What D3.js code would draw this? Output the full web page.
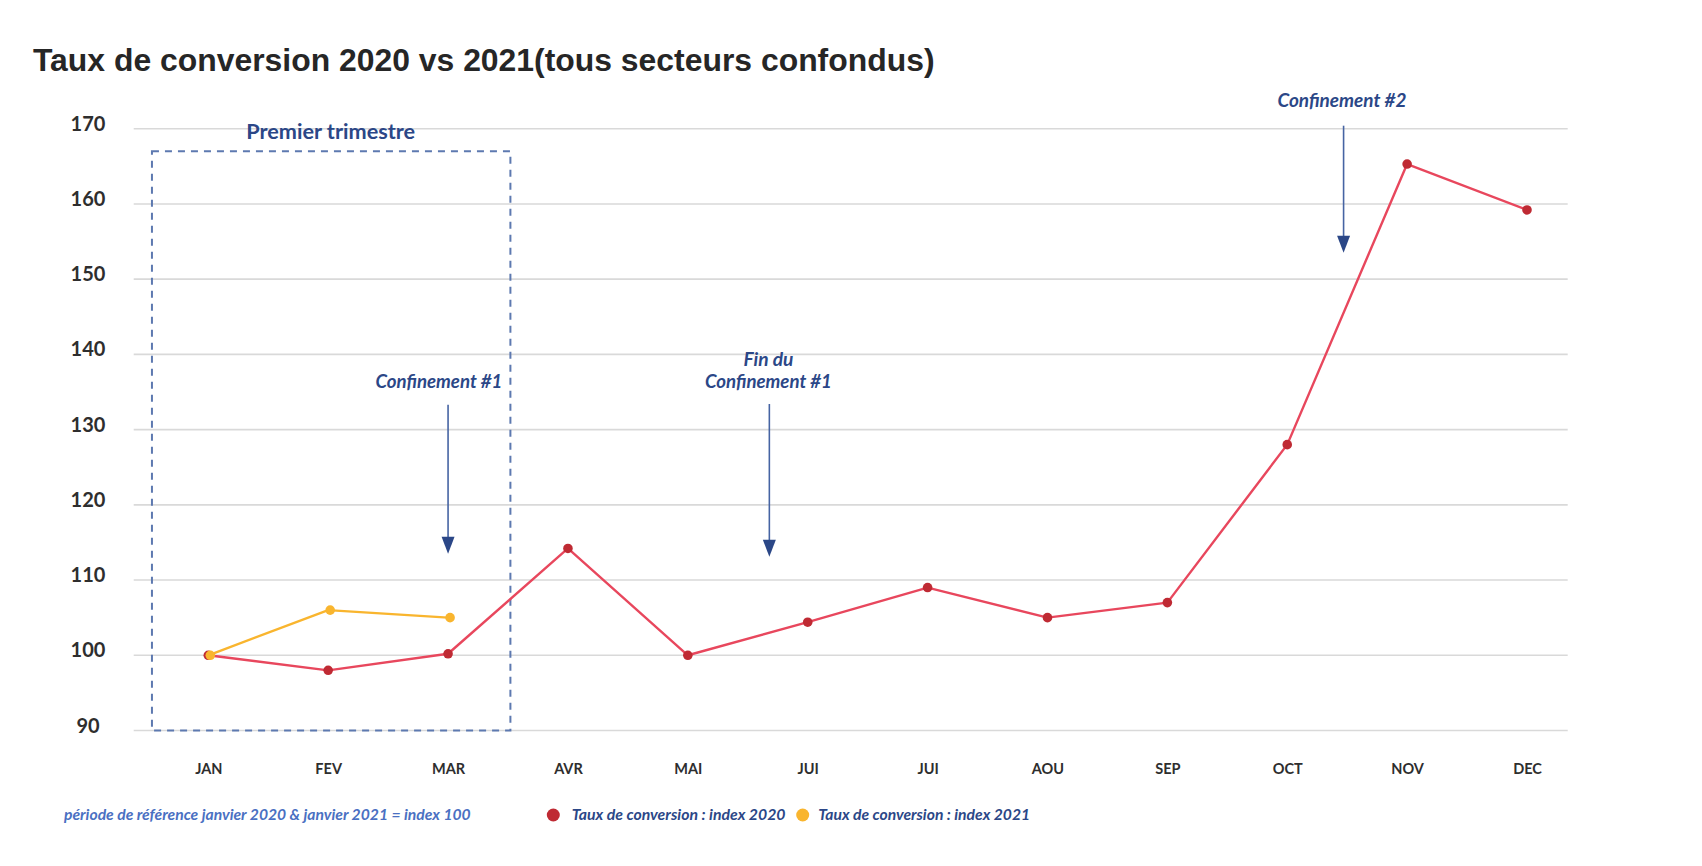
<!DOCTYPE html>
<html>
<head>
<meta charset="utf-8">
<script src="https://cdn.jsdelivr.net/npm/d3@7"></script>
<style>
  html, body { margin: 0; padding: 0; background: #ffffff; }
  svg { display: block; }
</style>
</head>
<body>
<svg id="chart" width="1702" height="866"></svg>
<script>
// ---------- DATA ----------
const months = ["JAN", "FEV", "MAR", "AVR", "MAI", "JUI", "JUI", "AOU", "SEP", "OCT", "NOV", "DEC"];
const index2020 = [100, 98, 100.2, 114.2, 100, 104.4, 109, 105, 107, 128, 165.3, 159.2];
const index2021 = [100, 106, 105];
const yTicks = [90, 100, 110, 120, 130, 140, 150, 160, 170];
const titleText = "Taux de conversion 2020 vs 2021(tous secteurs confondus)";
const noteText = "période de référence janvier 2020 & janvier 2021 = index 100";
const seriesNames = ["Taux de conversion : index 2020", "Taux de conversion : index 2021"];
const boxLabel = "Premier trimestre";
const annotationTexts = [["Confinement #1"], ["Fin du", "Confinement #1"], ["Confinement #2"]];

// ---------- LAYOUT / STYLE ----------
const C = {
  red: "#e8475d", redDot: "#bf2a33", yellow: "#f9b52e",
  navy: "#2b4787", arrow: "#4664a3", box: "#5d79b0",
  grid: "#d9d9d9", axisText: "#2e2e2e", note: "#4a70c2"
};
const svg = d3.select("#chart");
const gridLeft = 133.7, gridRight = 1567.7;

const x = d3.scalePoint().domain(d3.range(months.length)).range([208.3, 1527]);
const xi = v => x(0) + v * x.step();   // fractional month position
const y = d3.scaleLinear().domain([90, 170]).range([730.5, 128.7]);

function fitWidth(sel, w) {
  const cur = sel.node().getComputedTextLength();
  const fs = parseFloat(sel.attr("font-size"));
  sel.attr("font-size", fs * w / cur);
  return sel;
}

// ---------- TITLE ----------
const title = svg.append("text")
  .attr("x", 33).attr("y", 70.5)
  .attr("font-family", "'Liberation Sans', Arial, Helvetica, sans-serif")
  .attr("font-weight", 700).attr("font-size", 31)
  .attr("fill", "#262626")
  .text(titleText);
fitWidth(title, 902);

// ---------- GRID ----------
const grid = svg.append("g");
grid.selectAll("line").data(yTicks).join("line")
  .attr("x1", gridLeft).attr("x2", gridRight)
  .attr("y1", d => y(d)).attr("y2", d => y(d))
  .attr("stroke", C.grid).attr("stroke-width", 1.6);

// ---------- Y AXIS (labels only) ----------
const yAxis = d3.axisLeft(y).tickValues(yTicks).tickSize(0).tickPadding(0).tickFormat(d3.format("d"));
const yg = svg.append("g").attr("transform", "translate(88,0)").call(yAxis);
yg.select(".domain").remove();
yg.selectAll("text")
  .attr("text-anchor", "middle").attr("x", 0).attr("dy", "0.08em")
  .attr("font-family", "Lato, 'Open Sans', sans-serif")
  .attr("font-weight", 700).attr("font-size", 20)
  .attr("fill", C.axisText);

// ---------- X AXIS (labels only) ----------
const xAxis = d3.axisBottom(x).tickSize(0).tickPadding(0).tickFormat(i => months[i]);
const xg = svg.append("g").attr("transform", "translate(0,774)").call(xAxis);
xg.select(".domain").remove();
xg.selectAll("text")
  .attr("y", 0).attr("dy", 0)
  .attr("font-family", "Lato, 'Open Sans', sans-serif")
  .attr("font-weight", 700).attr("font-size", 14.5)
  .attr("fill", C.axisText);

// ---------- DASHED BOX (Premier trimestre) ----------
const boxX0 = xi(-0.47), boxX1 = xi(2.52), boxY0 = y(167), boxY1 = y(90);
svg.append("rect")
  .attr("x", boxX0).attr("y", boxY0)
  .attr("width", boxX1 - boxX0).attr("height", boxY1 - boxY0)
  .attr("fill", "none").attr("stroke", C.box)
  .attr("stroke-width", 2).attr("stroke-dasharray", "7,6");
const bl = svg.append("text")
  .attr("x", (boxX0 + boxX1) / 2 - 0.5).attr("y", 139.3)
  .attr("text-anchor", "middle")
  .attr("font-family", "Lato, 'Open Sans', sans-serif")
  .attr("font-weight", 700).attr("font-size", 19)
  .attr("fill", C.navy).text(boxLabel);
fitWidth(bl, 169);

// ---------- ANNOTATIONS ----------
const annLayout = [
  { at: 2.0,  textX: 439,  widths: [127], baselines: [135.5], top: 133.3, tip: 113.5 },
  { at: 4.68, textX: 768.5, widths: [50, 127], baselines: [138.4, 135.5], top: 133.4, tip: 113.1 },
  { at: 9.47, textX: 1342, widths: [129], baselines: [172.9], top: 170.4, tip: 153.5 }
];
annLayout.forEach((a, k) => {
  const ax = xi(a.at);
  svg.append("line")
    .attr("x1", ax).attr("x2", ax)
    .attr("y1", y(a.top)).attr("y2", y(a.tip) - 16)
    .attr("stroke", C.arrow).attr("stroke-width", 1.6);
  svg.append("path")
    .attr("d", `M${ax - 6.5},${y(a.tip) - 17} L${ax + 6.5},${y(a.tip) - 17} L${ax},${y(a.tip)} Z`)
    .attr("fill", C.navy);
  annotationTexts[k].forEach((line, j) => {
    const t = svg.append("text")
      .attr("x", a.textX).attr("y", y(a.baselines[j]))
      .attr("text-anchor", "middle")
      .attr("font-family", "Lato, 'Open Sans', sans-serif")
      .attr("font-weight", 700).attr("font-style", "italic").attr("font-size", 16.5)
      .attr("fill", C.navy).text(line);
    fitWidth(t, a.widths[j]);
  });
});

// ---------- LINES ----------
const lineGen = d3.line().x((d, i) => x(i)).y(d => y(d));
svg.append("path").datum(index2020)
  .attr("d", lineGen).attr("fill", "none")
  .attr("stroke", C.red).attr("stroke-width", 2.4).attr("stroke-linejoin", "round");
svg.append("path").datum(index2021)
  .attr("d", lineGen).attr("fill", "none")
  .attr("stroke", C.yellow).attr("stroke-width", 2.4).attr("stroke-linejoin", "round");

svg.append("g").selectAll("circle").data(index2020).join("circle")
  .attr("cx", (d, i) => x(i)).attr("cy", d => y(d)).attr("r", 4.8)
  .attr("fill", C.redDot);
svg.append("g").selectAll("circle").data(index2021).join("circle")
  .attr("cx", (d, i) => x(i) + 2).attr("cy", d => y(d)).attr("r", 4.8)
  .attr("fill", C.yellow);

// ---------- FOOTNOTE & LEGEND ----------
const note = svg.append("text")
  .attr("x", 64).attr("y", 820)
  .attr("font-family", "Lato, 'Open Sans', sans-serif")
  .attr("font-weight", 700).attr("font-style", "italic").attr("font-size", 13)
  .attr("fill", C.note).text(noteText);
fitWidth(note, 407);

const legendLayout = [
  { dotX: 553.3, textX: 571.7, width: 214, color: C.redDot },
  { dotX: 802.7, textX: 818.3, width: 212, color: C.yellow }
];
seriesNames.forEach((name, k) => {
  const L = legendLayout[k];
  svg.append("circle").attr("cx", L.dotX).attr("cy", 815).attr("r", 6.5).attr("fill", L.color);
  const t = svg.append("text")
    .attr("x", L.textX).attr("y", 819.5)
    .attr("font-family", "Lato, 'Open Sans', sans-serif")
    .attr("font-weight", 700).attr("font-style", "italic").attr("font-size", 13.5)
    .attr("fill", C.navy).text(name);
  fitWidth(t, L.width);
});
</script>
</body>
</html>
